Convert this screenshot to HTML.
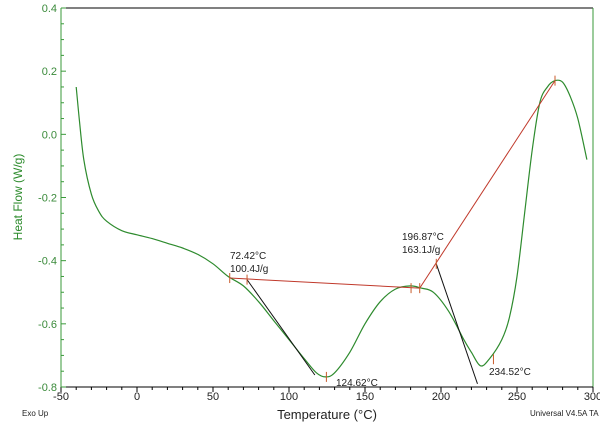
<!DOCTYPE html>
<html><head><meta charset="utf-8"><style>
body{margin:0;background:#fff;width:600px;height:424px;overflow:hidden}
svg text{font-family:"Liberation Sans",sans-serif}
</style></head><body>
<svg id="c" width="600" height="424"></svg>
<script>
const temps=[-40,-38,-35,-30,-25,-20,-10,0,10,20,30,40,50,60,70,80,90,100,110,118,124,130,140,150,160,170,180,187,195,205,215,220,226,232,240,245,250,255,260,265,270,275,280,285,290,296];
const flow=[0.15,0.05,-0.08,-0.19,-0.245,-0.275,-0.305,-0.318,-0.33,-0.345,-0.36,-0.38,-0.41,-0.45,-0.48,-0.53,-0.59,-0.65,-0.71,-0.755,-0.768,-0.755,-0.69,-0.6,-0.53,-0.49,-0.48,-0.487,-0.5,-0.56,-0.65,-0.69,-0.733,-0.71,-0.65,-0.58,-0.45,-0.25,-0.05,0.1,0.15,0.17,0.165,0.12,0.05,-0.08];
const xTicks=[-50,0,50,100,150,200,250,300];
const yTicks=[0.4,0.2,0.0,-0.2,-0.4,-0.6,-0.8];
const baseline1=[[61,-0.455],[186,-0.487]];
const baseline2=[[186,-0.487],[275,0.17]];
const tangent1=[[72.4,-0.46],[117,-0.762]];
const tangent2=[[196.9,-0.41],[224,-0.79]];
const X=t=>61+(t+50)*532/350, Y=v=>8+(0.4-v)*379/1.2;
const s=document.getElementById('c');const NS='http://www.w3.org/2000/svg';
function el(tag,a,txt){const e=document.createElementNS(NS,tag);for(const k in a)e.setAttribute(k,a[k]);if(txt!=null)e.textContent=txt;s.appendChild(e);return e;}
let e;
e=el('line',{x1:61,y1:8,x2:593,y2:8,stroke:'#000'});
e=el('line',{x1:593,y1:8,x2:593,y2:387,stroke:'#3a9a3a'});
e=el('line',{x1:61,y1:8,x2:61,y2:387,stroke:'#3a9a3a'});
e=el('line',{x1:61,y1:387,x2:593,y2:387,stroke:'#000'});
for(let t=-50;t<=300;t+=10){const maj=t%50===0;el('line',{x1:X(t),y1:387,x2:X(t),y2:387+(maj?5:3),stroke:'#000'});}
for(let v=-0.8;v<=0.401;v+=0.05){const maj=Math.abs(Math.round(v*100)%20)<1;el('line',{x1:61,y1:Y(v),x2:61+(maj?5:3),y2:Y(v),stroke:'#3a9a3a'});}
xTicks.forEach(t=>{e=el('text',{x:X(t),y:400,'font-size':11,'text-anchor':'middle',fill:'#222'},String(t));});
yTicks.forEach(v=>{e=el('text',{x:57,y:Y(v)+4,'font-size':11,'text-anchor':'end',fill:'#3a8a3a'},v.toFixed(1));});
e=el('text',{x:327,y:419,'font-size':13,'text-anchor':'middle',fill:'#222'},'Temperature (°C)');
e=el('text',{x:22,y:197,'font-size':12,'text-anchor':'middle',fill:'#2a8a2a',transform:'rotate(-90 22 197)'},'Heat Flow (W/g)');
e=el('text',{x:22,y:416,'font-size':8,fill:'#222'},'Exo Up');
e=el('text',{x:530,y:416,'font-size':8,fill:'#222'},'Universal V4.5A TA');
const P=temps.map((t,i)=>[X(t),Y(flow[i])]);
let d='M'+P[0][0].toFixed(1)+','+P[0][1].toFixed(1);
for(let i=0;i<P.length-1;i++){const p0=P[Math.max(0,i-1)],p1=P[i],p2=P[i+1],p3=P[Math.min(P.length-1,i+2)];
const c1=[p1[0]+(p2[0]-p0[0])/6,p1[1]+(p2[1]-p0[1])/6],c2=[p2[0]-(p3[0]-p1[0])/6,p2[1]-(p3[1]-p1[1])/6];
d+='C'+c1.map(v=>v.toFixed(1)).join(',')+' '+c2.map(v=>v.toFixed(1)).join(',')+' '+p2.map(v=>v.toFixed(1)).join(',');}
e=el('path',{d:d,fill:'none',stroke:'#2e8b2e','stroke-width':1.2});
function seg(p,col,name){e=el('line',{x1:X(p[0][0]),y1:Y(p[0][1]),x2:X(p[1][0]),y2:Y(p[1][1]),stroke:col,'stroke-width':1});}
seg(baseline1,'#c0392b','baseline-1');seg(baseline2,'#c0392b','baseline-2');seg(tangent1,'#111','tangent-1');seg(tangent2,'#111','tangent-2');
[[61,-0.455],[180.3,-0.487],[186,-0.487],[275,0.17],[124.6,-0.768],[234.5,-0.712],[72.4,-0.46],[196.9,-0.41]].forEach(p=>{e=el('line',{x1:X(p[0]),y1:Y(p[1])-5,x2:X(p[0]),y2:Y(p[1])+5,stroke:'#c85a2a'});});
[['72.42°C',230,259],['100.4J/g',230,272],['196.87°C',402,240],['163.1J/g',402,253],['124.62°C',336,386],['234.52°C',489,375]].forEach(a=>{e=el('text',{x:a[1],y:a[2],'font-size':10,fill:'#222'},a[0]);});
</script>
</body></html>
